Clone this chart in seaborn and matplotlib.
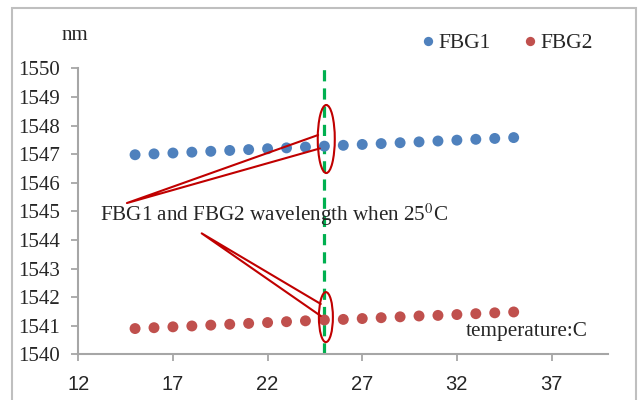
import matplotlib
matplotlib.use("Agg")
import matplotlib.pyplot as plt
from matplotlib.patches import Ellipse, Rectangle
import seaborn as sns
import pandas as pd

# ---- data ----
temperature = [15, 16, 17, 18, 19, 20, 21, 22, 23, 24, 25,
               26, 27, 28, 29, 30, 31, 32, 33, 34, 35]
fbg1 = [1546.98, 1547.01, 1547.04, 1547.07, 1547.10, 1547.13, 1547.16,
        1547.19, 1547.22, 1547.25, 1547.28, 1547.31, 1547.34, 1547.37,
        1547.40, 1547.43, 1547.46, 1547.49, 1547.52, 1547.55, 1547.58]
fbg2 = [1540.90, 1540.93, 1540.96, 1540.99, 1541.02, 1541.05, 1541.08,
        1541.11, 1541.14, 1541.17, 1541.20, 1541.22, 1541.25, 1541.28,
        1541.31, 1541.34, 1541.36, 1541.39, 1541.42, 1541.45, 1541.48]
series_names = ["FBG1", "FBG2"]
x_ticks = [12, 17, 22, 27, 32, 37]
y_ticks = [1540, 1541, 1542, 1543, 1544, 1545, 1546, 1547, 1548, 1549, 1550]
marker_temp = 25

df = pd.DataFrame({
    "temperature": temperature * 2,
    "wavelength": fbg1 + fbg2,
    "sensor": [series_names[0]] * len(fbg1) + [series_names[1]] * len(fbg2),
})

sns.set_theme(style="white")
SERIF = ["Liberation Serif", "DejaVu Serif"]
SANS = ["Liberation Sans", "DejaVu Sans"]
plt.rcParams["font.family"] = SERIF
plt.rcParams["mathtext.fontset"] = "stix"

fig = plt.figure(figsize=(6.39, 4.0), dpi=100)
ax = fig.add_axes([0.1225, 0.1143, 0.8295, 0.7147])

palette = {"FBG1": "#4F81BD", "FBG2": "#C0504D"}
sns.scatterplot(data=df, x="temperature", y="wavelength", hue="sensor",
                palette=palette, s=62, edgecolor="none", ax=ax, zorder=3)

ax.set_xlim(12, 40)
ax.set_ylim(1540, 1550)
ax.set_xticks(x_ticks)
ax.set_yticks(y_ticks)
ax.set_xlabel("")
ax.set_ylabel("")
for lab in ax.get_xticklabels():
    lab.set_fontfamily(SANS)
    lab.set_fontsize(14.5)
for lab in ax.get_yticklabels():
    lab.set_fontfamily(SERIF)
    lab.set_fontsize(15)
ax.tick_params(axis="both", which="both", direction="out", length=5,
               width=1.3, color="#A6A6A6", left=True, bottom=True)
ax.tick_params(axis="x", pad=10)
ax.tick_params(axis="y", pad=8)
for s in ["top", "right"]:
    ax.spines[s].set_visible(False)
for s in ["left", "bottom"]:
    ax.spines[s].set_color("#A6A6A6")
    ax.spines[s].set_linewidth(1.5)

# green dashed marker line at 25 C
ax.plot([marker_temp, marker_temp], [1540, 1550.1], color="#00B050",
        lw=2.3, dashes=(3.5, 2.2), clip_on=False, zorder=2)

# ellipses
red = "#C00000"
ax.add_patch(Ellipse((25.10, 1547.53), 0.90, 2.38, fill=False,
                     edgecolor=red, lw=1.5, zorder=4))
ax.add_patch(Ellipse((25.08, 1541.30), 0.74, 1.75, fill=False,
                     edgecolor=red, lw=1.5, zorder=4))
# callout wedges
ax.plot([24.67, 14.57, 24.76], [1547.67, 1545.29, 1547.20], color=red,
        lw=1.5, zorder=4)
ax.plot([24.81, 18.52, 24.81], [1541.76, 1544.23, 1541.34], color=red,
        lw=1.5, zorder=4)

ax.text(13.15, 1544.87, "FBG1 and FBG2 wavelength when 25$^{0}$C",
        fontsize=15.2, ha="left", va="center", zorder=5)
ax.text(38.91, 1540.78, "temperature:C", fontsize=15.3, ha="right",
        va="center")
fig.text(75 / 639, 1 - 36 / 400, "nm", fontsize=15, ha="center",
         va="center", family=SERIF)

handles, labels = ax.get_legend_handles_labels()
leg = ax.legend(handles, labels, loc="center", bbox_to_anchor=(0.805, 1.088),
                ncol=2, frameon=False, fontsize=15.5, handletextpad=0.0,
                columnspacing=1.3, markerscale=0.85, handlelength=1.0)

# outer chart border
fig.patches.append(Rectangle((11.7 / 639, -0.1), (636 - 11.7) / 639,
                             1.1 - 8.3 / 400, transform=fig.transFigure,
                             fill=False, edgecolor="#BFBFBF", lw=1.5))

fig.savefig("out.png", dpi=100)
